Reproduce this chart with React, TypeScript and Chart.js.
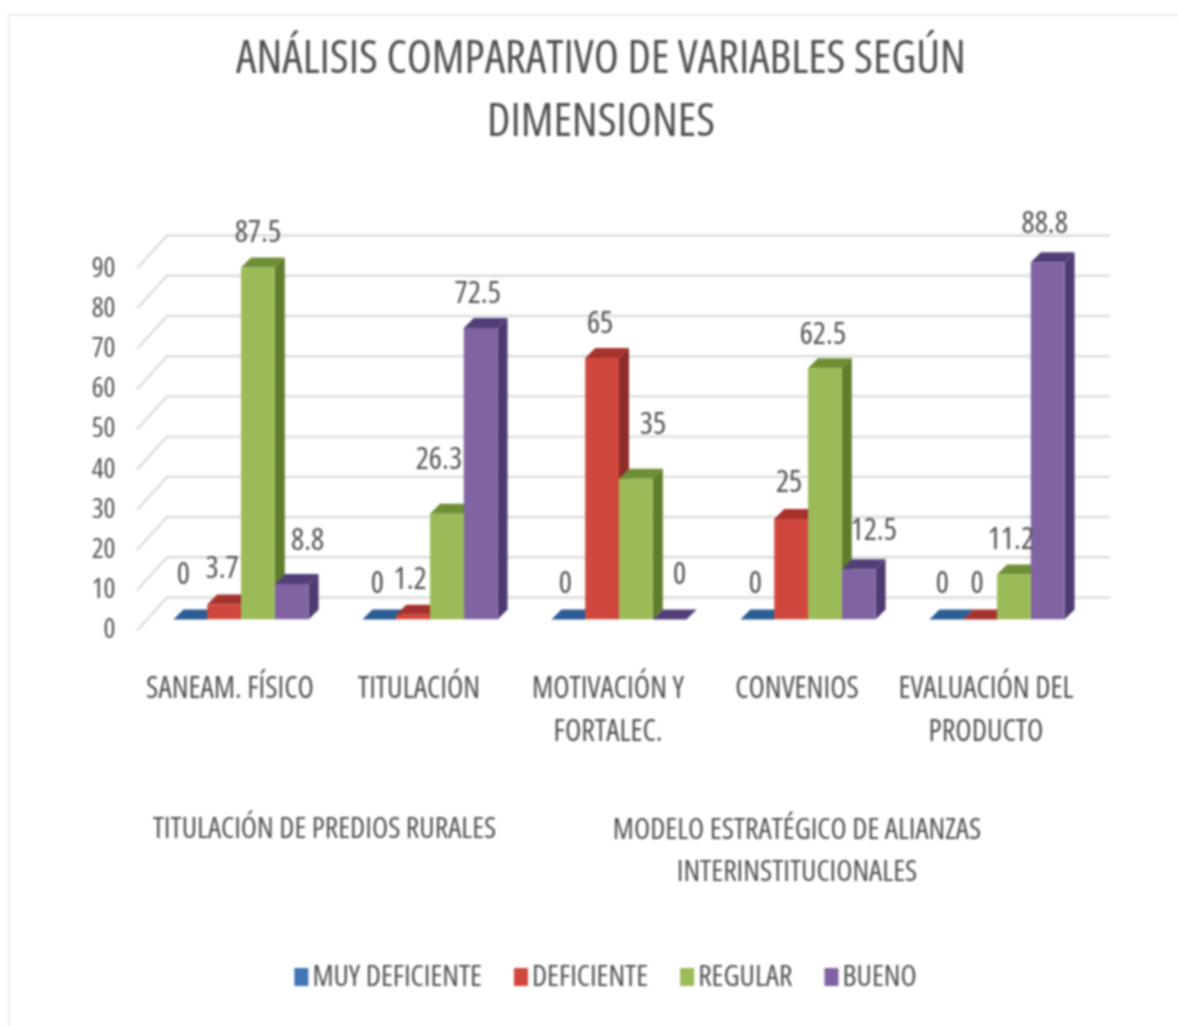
import React, { useEffect, useRef } from "react";
import { Chart, registerables } from "chart.js";

Chart.register(...registerables);

const titleLines = ["ANÁLISIS COMPARATIVO DE VARIABLES SEGÚN", "DIMENSIONES"];
const categories = [
  ["SANEAM. FÍSICO"],
  ["TITULACIÓN"],
  ["MOTIVACIÓN Y", "FORTALEC."],
  ["CONVENIOS"],
  ["EVALUACIÓN DEL", "PRODUCTO"],
];
const seriesNames = ["MUY DEFICIENTE", "DEFICIENTE", "REGULAR", "BUENO"];
const muyDeficiente = [0, 0, 0, 0, 0];
const deficiente = [3.7, 1.2, 65, 25, 0];
const regular = [87.5, 26.3, 35, 62.5, 11.2];
const bueno = [8.8, 72.5, 0, 12.5, 88.8];
const groupOne = ["TITULACIÓN DE PREDIOS RURALES"];
const groupTwo = ["MODELO ESTRATÉGICO DE ALIANZAS", "INTERINSTITUCIONALES"];

const FAMILY = '"Open Sans", sans-serif';
const STRETCH = "500 condensed";
const TEXT = "#505050";
const frontColors = ["#3f76b4", "#d0483d", "#9bbb59", "#8064a2"];
const topColors = ["#2b5d94", "#a6322e", "#6f8f35", "#533f78"];
const sideColors = ["#24507f", "#8c2b28", "#5f7d2a", "#4d3a70"];
const DEPTH_X = 10;
const DEPTH_Y = 10;

// label nudges [series][category] => [dx, dy] relative to the top of the front face
const labelNudge = [
  [[-7, -46], [-2, -37], [-3, -37], [-2, -37], [-4, -37]],
  [[-2, -37], [-3, -37], [-2, -36], [-2, -38], [-3, -37]],
  [[0, -36], [-8, -56], [17, -56], [-2, -35], [-3, -36]],
  [[16, -45], [-3, -36], [10, -46], [15, -40], [-3, -40]],
];

const chart3d = {
  id: "chart3d",
  beforeDraw(chart: any) {
    const { ctx } = chart;
    ctx.save();
    ctx.fillStyle = "#ffffff";
    ctx.fillRect(0, 0, chart.width, chart.height);
    ctx.strokeStyle = "#ececec";
    ctx.lineWidth = 2;
    ctx.beginPath();
    ctx.moveTo(9, chart.height);
    ctx.lineTo(9, 15);
    ctx.lineTo(chart.width, 15);
    ctx.stroke();
    ctx.restore();
  },
  beforeDatasetsDraw(chart: any) {
    const { ctx } = chart;
    const y = chart.scales.y;
    ctx.save();
    // floor/back-wall gridlines
    ctx.strokeStyle = "#dcdcdc";
    ctx.lineWidth = 2.4;
    y.ticks.forEach((t: any) => {
      const p = y.getPixelForValue(t.value);
      ctx.beginPath();
      ctx.moveTo(137, p + 11);
      ctx.lineTo(167, p - 22);
      ctx.lineTo(1110, p - 22);
      ctx.stroke();
    });
    // sides and tops of every bar, left to right; the library paints fronts afterwards
    const metas = chart.data.datasets.map((_: any, i: number) => chart.getDatasetMeta(i));
    categories.forEach((_, c) => {
      metas.forEach((meta: any, s: number) => {
        const bar = meta.data[c];
        const l = bar.x - bar.width / 2;
        const r = bar.x + bar.width / 2;
        const top = bar.y;
        const base = bar.base;
        ctx.fillStyle = sideColors[s];
        ctx.beginPath();
        ctx.moveTo(r, top);
        ctx.lineTo(r + DEPTH_X, top - DEPTH_Y);
        ctx.lineTo(r + DEPTH_X, base - DEPTH_Y);
        ctx.lineTo(r, base);
        ctx.closePath();
        ctx.fill();
        ctx.fillStyle = topColors[s];
        ctx.beginPath();
        ctx.moveTo(l, top);
        ctx.lineTo(l + DEPTH_X, top - DEPTH_Y);
        ctx.lineTo(r + DEPTH_X, top - DEPTH_Y);
        ctx.lineTo(r, top);
        ctx.closePath();
        ctx.fill();
      });
    });
    ctx.restore();
  },
  afterDatasetsDraw(chart: any) {
    const { ctx } = chart;
    const x = chart.scales.x;
    ctx.save();
    ctx.fillStyle = TEXT;
    ctx.textAlign = "center";
    ctx.textBaseline = "middle";
    // value labels
    ctx.font = `${STRETCH} 31px ${FAMILY}`;
    chart.data.datasets.forEach((ds: any, s: number) => {
      const meta = chart.getDatasetMeta(s);
      ds.data.forEach((v: number, c: number) => {
        const bar = meta.data[c];
        const [dx, dy] = labelNudge[s][c];
        ctx.fillText(String(v), bar.x + dx, bar.y + dy + 2);
      });
    });
    // group captions
    ctx.font = `${STRETCH} 29.7px ${FAMILY}`;
    const cx1 = (x.getPixelForValue(0) + x.getPixelForValue(1)) / 2 - 11;
    const cx2 = x.getPixelForValue(3) - 11;
    groupOne.forEach((t, i) => ctx.fillText(t, cx1, 830 + i * 42));
    groupTwo.forEach((t, i) => ctx.fillText(t, cx2, 831 + i * 42));
    // legend
    ctx.textAlign = "left";
    const widths = seriesNames.map((n) => ctx.measureText(n).width);
    const boxW = 14;
    const boxGap = 4;
    const itemGap = 32;
    const total = widths.reduce((a, b) => a + b + boxW + boxGap, 0) + itemGap * 3;
    let lx = 605.5 - total / 2;
    seriesNames.forEach((n, i) => {
      ctx.fillStyle = frontColors[i];
      ctx.fillRect(lx, 968, boxW, 18);
      ctx.fillStyle = TEXT;
      ctx.fillText(n, lx + boxW + boxGap, 978);
      lx += boxW + boxGap + widths[i] + itemGap;
    });
    ctx.restore();
  },
};

export default function App() {
  const ref = useRef<HTMLCanvasElement>(null);
  useEffect(() => {
    const chart = new Chart(ref.current as HTMLCanvasElement, {
      type: "bar",
      data: {
        labels: categories,
        datasets: [muyDeficiente, deficiente, regular, bueno].map((data, i) => ({
          label: seriesNames[i],
          data,
          backgroundColor: frontColors[i],
          borderWidth: 0,
          barPercentage: 1,
          categoryPercentage: 0.715,
        })),
      },
      options: {
        responsive: false,
        animation: false,
        layout: { padding: { left: 24, right: 0, top: 0, bottom: 71.5 } },
        plugins: {
          legend: { display: false },
          tooltip: { enabled: false },
          title: {
            display: true,
            text: titleLines,
            color: TEXT,
            font: { family: FAMILY, size: 46, weight: STRETCH, lineHeight: 1.37 },
            padding: { top: 28.5, bottom: 103 },
          },
        },
        scales: {
          x: {
            grid: { display: false },
            border: { display: false },
            afterFit: (s: any) => {
              s.height = 335;
            },
            ticks: {
              color: TEXT,
              maxRotation: 0,
              minRotation: 0,
              autoSkip: false,
              labelOffset: -11,
              padding: 41,
              font: { family: FAMILY, size: 30, weight: STRETCH, lineHeight: 1.43 },
            },
          },
          y: {
            min: 0,
            max: 90,
            grid: { display: false },
            border: { display: false },
            afterFit: (s: any) => {
              s.width = 122.5;
            },
            ticks: {
              stepSize: 10,
              color: TEXT,
              padding: 23,
              labelOffset: 11,
              font: { family: FAMILY, size: 28, weight: STRETCH },
            },
          },
          spacer: {
            position: "right",
            grid: { display: false },
            border: { display: false },
            ticks: { display: false },
            afterFit: (s: any) => {
              s.width = 86.5;
            },
          },
        },
      },
      plugins: [chart3d],
    } as any);
    return () => chart.destroy();
  }, []);
  return (
    <canvas
      ref={ref}
      width={1178}
      height={1026}
      style={{ position: "absolute", left: 0, top: 0, filter: "blur(0.9px)" }}
    />
  );
}
